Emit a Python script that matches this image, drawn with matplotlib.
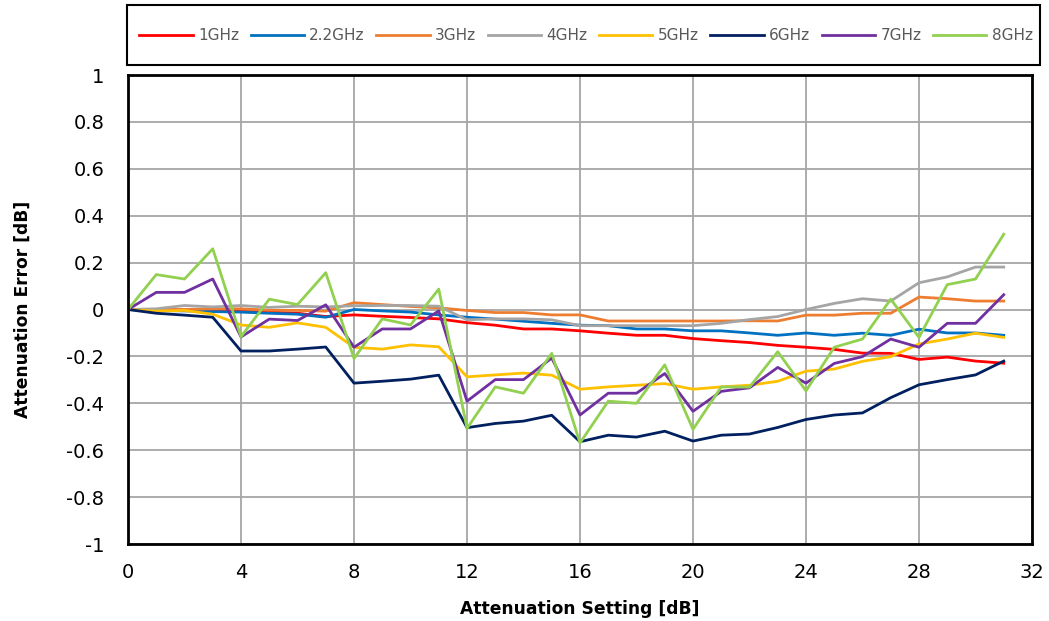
import matplotlib.pyplot as plt
from matplotlib.patches import Rectangle
import numpy as np

# Attenuation error per setting, one list per frequency
setting = np.arange(32)

err_1g = [0, 0, -0.002, -0.004, -0.009, -0.011, -0.016, -0.03, -0.023, -0.029, -0.034, -0.04,
          -0.056, -0.067, -0.083, -0.083, -0.091, -0.101, -0.11, -0.11, -0.124, -0.133, -0.141, -0.153,
          -0.161, -0.17, -0.186, -0.187, -0.213, -0.203, -0.22, -0.229]
err_2g2 = [0, -0.004, -0.006, -0.009, -0.011, -0.016, -0.02, -0.033, 0.0, -0.006, -0.011, -0.023,
           -0.033, -0.041, -0.05, -0.059, -0.067, -0.069, -0.083, -0.083, -0.091, -0.091, -0.1, -0.11,
           -0.1, -0.11, -0.101, -0.11, -0.084, -0.1, -0.1, -0.11]
err_3g = [0, 0.0, 0.0, 0.003, 0.003, -0.003, -0.004, -0.007, 0.029, 0.021, 0.013, 0.007,
          -0.004, -0.013, -0.013, -0.023, -0.023, -0.049, -0.049, -0.049, -0.049, -0.049, -0.048, -0.049,
          -0.024, -0.024, -0.016, -0.016, 0.053, 0.046, 0.036, 0.036]
err_4g = [0, 0.003, 0.017, 0.011, 0.017, 0.009, 0.014, 0.011, 0.016, 0.017, 0.017, 0.014,
          -0.044, -0.04, -0.04, -0.044, -0.069, -0.069, -0.069, -0.069, -0.069, -0.059, -0.043, -0.03,
          0.0, 0.026, 0.046, 0.036, 0.114, 0.139, 0.181, 0.181]
err_5g = [0, -0.007, -0.004, -0.02, -0.066, -0.076, -0.057, -0.076, -0.161, -0.169, -0.151, -0.159,
          -0.287, -0.279, -0.271, -0.28, -0.34, -0.33, -0.323, -0.316, -0.34, -0.33, -0.323, -0.306,
          -0.263, -0.254, -0.221, -0.201, -0.147, -0.126, -0.101, -0.119]
err_6g = [0, -0.016, -0.024, -0.033, -0.177, -0.177, -0.169, -0.16, -0.314, -0.306, -0.297, -0.28,
          -0.504, -0.486, -0.476, -0.451, -0.564, -0.536, -0.544, -0.519, -0.561, -0.536, -0.531, -0.503,
          -0.469, -0.45, -0.441, -0.376, -0.321, -0.299, -0.279, -0.22]
err_7g = [0, 0.073, 0.073, 0.13, -0.117, -0.041, -0.047, 0.02, -0.161, -0.083, -0.083, -0.006,
          -0.391, -0.299, -0.299, -0.207, -0.45, -0.357, -0.357, -0.273, -0.434, -0.349, -0.334, -0.247,
          -0.314, -0.23, -0.201, -0.126, -0.161, -0.059, -0.059, 0.063]
err_8g = [0, 0.149, 0.13, 0.259, -0.116, 0.044, 0.021, 0.157, -0.209, -0.04, -0.066, 0.087,
          -0.507, -0.33, -0.357, -0.187, -0.569, -0.391, -0.4, -0.236, -0.511, -0.33, -0.331, -0.18,
          -0.347, -0.161, -0.126, 0.044, -0.119, 0.106, 0.13, 0.321]

labels = ["1GHz", "2.2GHz", "3GHz", "4GHz", "5GHz", "6GHz", "7GHz", "8GHz"]
colors = ["#FF0000", "#0070C0", "#ED7D31", "#A5A5A5", "#FFC000", "#002060", "#7030A0", "#92D050"]
series = [err_1g, err_2g2, err_3g, err_4g, err_5g, err_6g, err_7g, err_8g]

W, H = 1049, 621
fig = plt.figure(figsize=(W / 100, H / 100), dpi=100)
ax = fig.add_axes([128 / W, 1 - 544 / H, (1032 - 128) / W, (544 - 75) / H])

lines = []
for y, c, lab in zip(series, colors, labels):
    ln, = ax.plot(setting, y, color=c, lw=2.0, label=lab)
    lines.append(ln)

ax.set_xlim(0, 32)
ax.set_ylim(-1, 1)
ax.set_xticks(np.arange(0, 33, 4))
ax.set_yticks(np.arange(-1, 1.01, 0.2))
ax.set_yticklabels(["-1", "-0.8", "-0.6", "-0.4", "-0.2", "0", "0.2", "0.4", "0.6", "0.8", "1"])
ax.tick_params(length=0, labelsize=14)
ax.tick_params(axis="y", pad=17)
ax.tick_params(axis="x", pad=14)
ax.grid(True, color="#A6A6A6", lw=1.3)
ax.set_axisbelow(True)
for s in ax.spines.values():
    s.set_linewidth(2)
    s.set_color("black")

ax.set_xlabel("Attenuation Setting [dB]", fontsize=12.3, fontweight="bold", labelpad=13)
ax.set_ylabel("Attenuation Error [dB]", fontsize=12.3, fontweight="bold", labelpad=25)

# legend box across the top
fig.add_artist(Rectangle((127 / W, 1 - 65 / H), (1040 - 127) / W, 60 / H,
                         transform=fig.transFigure, fill=False, edgecolor="black", lw=1.5))
leg = fig.legend(handles=lines, loc="center", ncol=8, bbox_to_anchor=(586 / W, 1 - 36 / H),
                 frameon=False, fontsize=11, handlelength=3.5, handletextpad=0.35,
                 columnspacing=0.75, borderpad=0.2)
for t in leg.get_texts():
    t.set_color("#595959")

fig.savefig("out.png", dpi=100)
